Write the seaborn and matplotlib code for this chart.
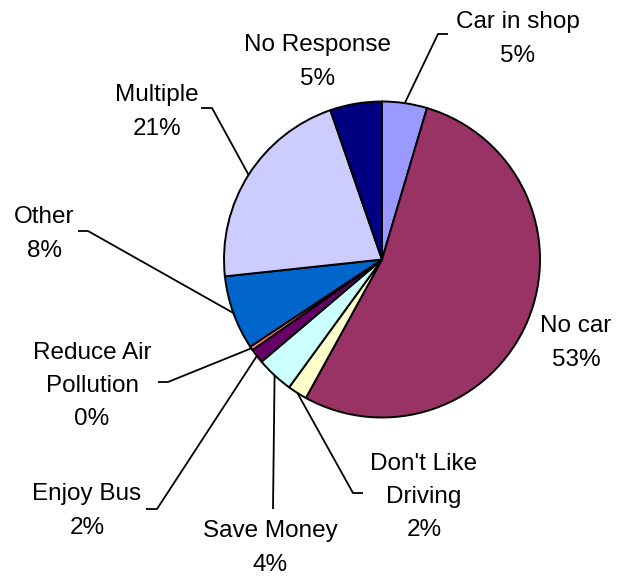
import numpy as np
import matplotlib
matplotlib.use("Agg")
import matplotlib.pyplot as plt
import seaborn as sns

# Reasons for riding the bus (share of responses, %)
reasons = ["Car in shop", "No car", "Don't Like\nDriving", "Save Money", "Enjoy Bus",
           "Reduce Air\nPollution", "Other", "Multiple", "No Response"]
shares = [4.6, 53.4, 2.0, 3.8, 1.5, 0.4, 7.6, 21.4, 5.3]
colors = ["#9999FF", "#993366", "#FFFFCC", "#CCFFFF", "#660066",
          "#FF8080", "#0066CC", "#CCCCFF", "#000080"]

# label placement in pixel space (text centre, leader tail or None)
label_pos = [(518, 39), (576, 343), (424, 497), (270, 548), (87, 511),
             (92, 386), (44, 234), (157, 112), (318, 62)]
tails = [[(448, 34), (438, 34)], None, [(363, 493), (353, 493)], [(273, 509)],
         [(146, 509), (157, 509)], [(158, 382), (168, 382)], [(78, 231), (88, 231)],
         [(201, 108), (212, 108)], None]

sns.set_style("white")
plt.rcParams["font.family"] = ["Liberation Sans", "DejaVu Sans"]

fig = plt.figure(figsize=(6.2, 5.76), dpi=100)
ax = fig.add_axes([0, 0, 1, 1])

# y axis is inverted (pixel coords), so counterclock=True runs clockwise on screen
wedges, _ = ax.pie(shares, colors=sns.color_palette(colors), startangle=-90,
                   counterclock=True, center=(382, 259.5), radius=158,
                   wedgeprops=dict(edgecolor="black", linewidth=1.4))
ax.set_xlim(0, 620)
ax.set_ylim(576, 0)
ax.set_aspect("equal")
ax.axis("off")

for w, name, val, pos, tail in zip(wedges, reasons, shares, label_pos, tails):
    ax.text(pos[0], pos[1], f"{name}\n{round(val)}%", ha="center", va="center",
            fontsize=17.5, linespacing=1.65, color="black")
    if tail is not None:
        mid = np.deg2rad((w.theta1 + w.theta2) / 2)
        edge = (w.center[0] + w.r * np.cos(mid), w.center[1] + w.r * np.sin(mid))
        xs = [p[0] for p in tail] + [edge[0]]
        ys = [p[1] for p in tail] + [edge[1]]
        ax.plot(xs, ys, color="black", linewidth=1.3, solid_capstyle="butt")

fig.savefig("out.png", dpi=100)
